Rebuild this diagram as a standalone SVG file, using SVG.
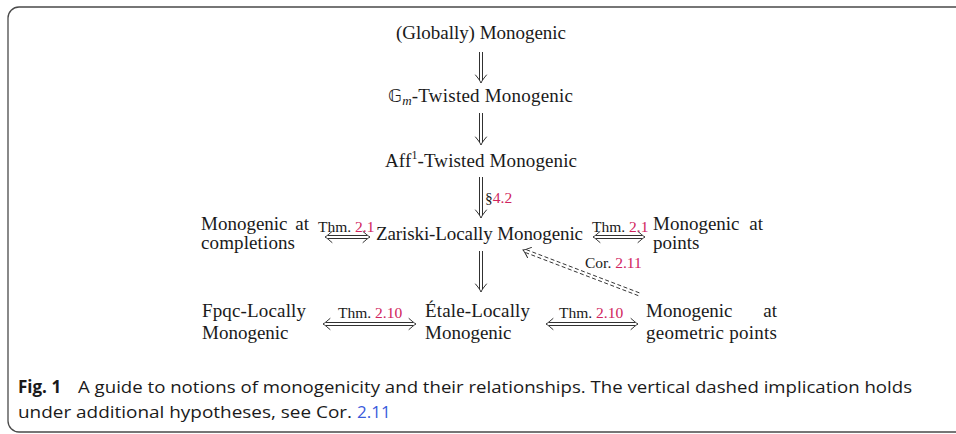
<svg xmlns="http://www.w3.org/2000/svg" width="956" height="434" viewBox="0 0 956 434">
<style>
.t{font-family:"Liberation Serif","DejaVu Serif",serif;font-size:19px;fill:#1a1a1a}
.s{font-family:"Liberation Serif","DejaVu Serif",serif;font-size:15.5px;fill:#1a1a1a}
.r{fill:#d0245e}
.c{font-family:"Open Sans","Noto Sans",sans-serif;font-size:17px;fill:#1a1a1a}
.ln{stroke:#1a1a1a;stroke-width:0.9;fill:none}
.hd{stroke:#1a1a1a;stroke-width:0.9;fill:none;stroke-linecap:round}
.dl{stroke:#1a1a1a;stroke-width:0.8;fill:none;stroke-dasharray:4 2.5}
</style>
<rect x="8" y="7" width="980" height="425" rx="11" fill="#fff" stroke="#4a4a4a" stroke-width="1.3"/>

<g id="n-global"><text class="t" x="481" y="39" text-anchor="middle" textLength="170">(Globally) Monogenic</text></g>
<g id="n-gm"><text class="t" x="388" y="102" textLength="185"><tspan font-family="DejaVu Sans,sans-serif" font-size="18">𝔾</tspan><tspan font-style="italic" font-size="13" dy="3">m</tspan><tspan dy="-3">-Twisted Monogenic</tspan></text></g>
<g id="n-aff"><text class="t" x="385" y="167" textLength="192">Aff<tspan font-size="12" dy="-8">1</tspan><tspan dy="8">-Twisted Monogenic</tspan></text></g>
<g id="n-zariski"><text class="t" x="376" y="240" textLength="207">Zariski-Locally Monogenic</text></g>
<g id="n-completions"><text class="t" x="201" y="230">Monogenic</text><text class="t" x="309" y="230" text-anchor="end">at</text><text class="t" x="201" y="249" textLength="94">completions</text></g>
<g id="n-points"><text class="t" x="653" y="230">Monogenic</text><text class="t" x="763" y="230" text-anchor="end">at</text><text class="t" x="653" y="249">points</text></g>
<g id="n-fpqc"><text class="t" x="202" y="317" textLength="104">Fpqc-Locally</text><text class="t" x="202" y="339">Monogenic</text></g>
<g id="n-etale"><text class="t" x="425" y="317" textLength="105">Étale-Locally</text><text class="t" x="425" y="339">Monogenic</text></g>
<g id="n-geometric"><text class="t" x="646" y="317">Monogenic</text><text class="t" x="777" y="317" text-anchor="end">at</text><text class="t" x="646" y="339" textLength="131">geometric points</text></g>

<g id="connectors">
  <path class="ln" d="M479.5,52V80M482.5,52V80"/>
  <path class="hd" d="M475.5,75C478,78 480,80.5 481,83C482,80.5 484,78 486.5,75"/>
  <path class="ln" d="M479.5,113V142M482.5,113V142"/>
  <path class="hd" d="M475.5,137C478,140 480,142.5 481,145C482,142.5 484,140 486.5,137"/>
  <path class="ln" d="M479.5,177V215M482.5,177V215"/>
  <path class="hd" d="M475.5,210C478,213 480,215.5 481,218C482,215.5 484,213 486.5,210"/>
  <path class="ln" d="M479.5,251V289M482.5,251V289"/>
  <path class="hd" d="M475.5,284C478,287 480,289.5 481,292C482,289.5 484,287 486.5,284"/>
  <text class="s" x="485" y="203">§<tspan class="r">4.2</tspan></text>

  <path class="ln" d="M328,235.5H367M328,238.5H367"/>
  <path class="hd" d="M332,231.5C329,234 327,236 325,237C327,238 329,240 332,242.5M363,231.5C366,234 368,236 370,237C368,238 366,240 363,242.5"/>
  <text class="s" x="318" y="232">Thm. <tspan class="r">2.1</tspan></text>

  <path class="ln" d="M596,235.5H642M596,238.5H642"/>
  <path class="hd" d="M600,231.5C597,234 595,236 593,237C595,238 597,240 600,242.5M638,231.5C641,234 643,236 645,237C643,238 641,240 638,242.5"/>
  <text class="s" x="592" y="232">Thm. <tspan class="r">2.1</tspan></text>

  <path class="ln" d="M326,322.5H413M326,325.5H413"/>
  <path class="hd" d="M330,318.5C327,321 325,323 323,324C325,325 327,327 330,329.5M409,318.5C412,321 414,323 416,324C414,325 412,327 409,329.5"/>
  <text class="s" x="338" y="318">Thm. <tspan class="r">2.10</tspan></text>

  <path class="ln" d="M549,322.5H635M549,325.5H635"/>
  <path class="hd" d="M553,318.5C550,321 548,323 546,324C548,325 550,327 553,329.5M631,318.5C634,321 636,323 638,324C636,325 634,327 631,329.5"/>
  <text class="s" x="559" y="318">Thm. <tspan class="r">2.10</tspan></text>

  <g transform="translate(523,250) rotate(20.9)">
    <path class="dl" d="M3,-1.5H125M3,1.5H125"/>
    <path class="hd" d="M7,-5.5C4,-3 2,-1 0,0C2,1 4,3 7,5.5"/>
  </g>
  <text class="s" x="585" y="268">Cor. <tspan class="r">2.11</tspan></text>
</g>

<g id="caption">
  <text class="c" x="18" y="393" font-weight="bold">Fig. 1</text>
  <text class="c" x="78" y="393" textLength="834" lengthAdjust="spacingAndGlyphs">A guide to notions of monogenicity and their relationships. The vertical dashed implication holds</text>
  <text class="c" x="18" y="418" textLength="334" lengthAdjust="spacingAndGlyphs">under additional hypotheses, see Cor.</text>
  <text class="c" x="357" y="418" style="fill:#3b5bdb">2.11</text>
</g>
</svg>
